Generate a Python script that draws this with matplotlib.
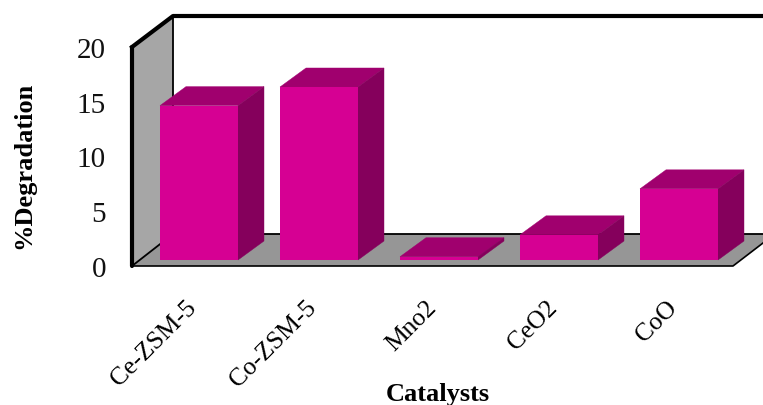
import matplotlib.pyplot as plt
from matplotlib.patches import Polygon

categories = ['Ce-ZSM-5', 'Co-ZSM-5', 'Mno2', 'CeO2', 'CoO']
degradation = [14.1, 15.8, 0.3, 2.3, 6.5]
y_ticks = [0, 5, 10, 15, 20]

FRONT = '#d60093'
TOP = '#a0006e'
SIDE = '#85005c'
WALL = '#a6a6a6'
FLOOR = '#969696'

# scale of the axes in pixels per unit
px_x = 120.0
px_y = 10.95
bar_w = 78 / px_x
depth_x = 26 / px_x
depth_y = 19 / px_y

fig = plt.figure(figsize=(7.63, 4.05), dpi=100)
ax = fig.add_axes([0, 0, 1, 1])
ax.set_xlim(-199 / px_x, (763 - 199) / px_x)
ax.set_ylim((260 - 405) / px_y, 260 / px_y)
ax.axis('off')


def X(px):
    return (px - 199) / px_x


def Y(px):
    return (260 - px) / px_y


# side wall and floor of the 3d box
ax.add_patch(Polygon([(X(132), Y(47)), (X(173), Y(17)), (X(173), Y(234)), (X(132), Y(266))],
                     fc=WALL, ec='none', zorder=1))
ax.add_patch(Polygon([(X(132), Y(266)), (X(173), Y(234)), (X(763), Y(234)), (X(763), Y(243)), (X(733), Y(266))],
                     fc=FLOOR, ec='none', zorder=1))

ax.plot([X(132), X(132)], [Y(47), Y(266)], color='black', lw=3, zorder=2, solid_capstyle='round')
ax.plot([X(132), X(173), X(763)], [Y(47), Y(16), Y(16)], color='black', lw=3, zorder=2)
ax.plot([X(173), X(173)], [Y(16), Y(234)], color='black', lw=1.3, zorder=2)
ax.plot([X(132), X(173), X(763)], [Y(266), Y(234), Y(234)], color='black', lw=1.3, zorder=2)
ax.plot([X(132), X(733), X(763)], [Y(266), Y(266), Y(243)], color='black', lw=1.2, zorder=2)

# bars
for i, v in enumerate(degradation):
    l = i - bar_w / 2
    r = i + bar_w / 2
    ax.add_patch(Polygon([(l, v), (r, v), (r + depth_x, v + depth_y), (l + depth_x, v + depth_y)],
                         fc=TOP, ec=TOP, lw=0.3, zorder=3))
    ax.add_patch(Polygon([(r, 0), (r + depth_x, depth_y), (r + depth_x, v + depth_y), (r, v)],
                         fc=SIDE, ec=SIDE, lw=0.3, zorder=3))
    ax.bar(i, v, width=bar_w, bottom=0, color=FRONT, zorder=4)

for t in y_ticks:
    ax.text(X(106), Y(270) + t, str(t), ha='right', va='center', family='Liberation Serif',
            fontsize=21, color='#111111')

for i, name in enumerate(categories):
    ax.text(i - 0.112, Y(297), name, rotation=45, ha='right', va='top', rotation_mode='anchor',
            family='Liberation Serif', fontsize=18.4, color='black')

ax.text(X(438), Y(394), 'Catalysts', ha='center', va='center', family='Liberation Serif',
        fontweight='bold', fontsize=19, color='black')
ax.text(X(24), Y(165), '%Degradation', rotation=90, ha='center', va='center', family='Liberation Serif',
        fontweight='bold', fontsize=19, color='black')

fig.savefig('out.png', dpi=100)
